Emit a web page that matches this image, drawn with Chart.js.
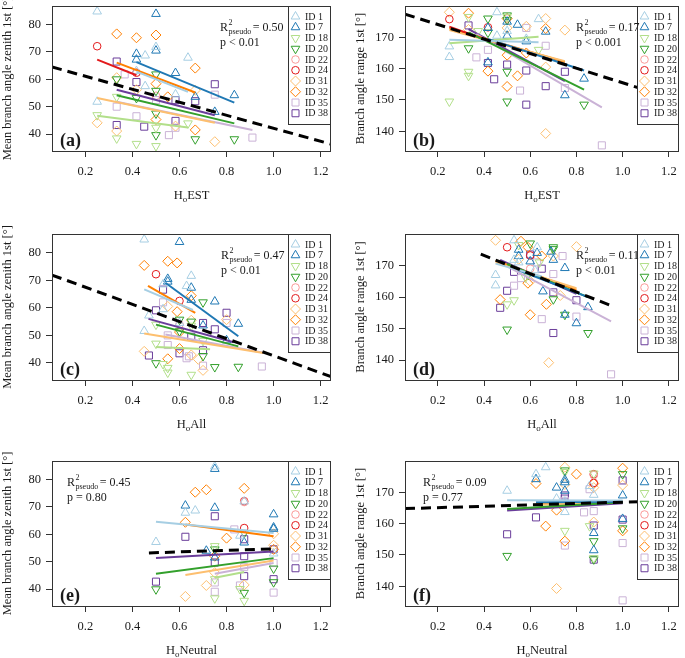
<!DOCTYPE html>
<html>
<head>
<meta charset="utf-8">
<script src="https://cdn.jsdelivr.net/npm/chart.js@4.4.0/dist/chart.umd.min.js"></script>
<style>
  body { margin: 0; background: #fff; }
  #wrap { position: relative; width: 685px; height: 658px; }
  .cell { position: absolute; }
</style>
</head>
<body>
<div id="wrap"></div>
<script>
// ---- data ----
const ids = ['ID 1', 'ID 7', 'ID 18', 'ID 20', 'ID 22', 'ID 24', 'ID 31', 'ID 32', 'ID 35', 'ID 38'];
const idColors = ['#a6cee3', '#1f78b4', '#b2df8a', '#33a02c', '#fb9a99', '#e31a1c', '#fdbf6f', '#ff7f00', '#cab2d6', '#6a3d9a'];
const idShapes = ['triUp', 'triUp', 'triDown', 'triDown', 'circle', 'circle', 'diamond', 'diamond', 'square', 'square'];

const xTicks = [0.2, 0.4, 0.6, 0.8, 1.0, 1.2];
const zenithTicks = [40, 50, 60, 70, 80];
const rangeTicks = [140, 150, 160, 170];

// (a) HoEST vs mean zenith
const ptsA = [
  [[0.25,84.8],[0.5,71.8],[0.454,68.7],[0.636,67.9],[0.454,57.5],[0.25,51.8],[0.583,54.5],[0.417,63]],
  [[0.5,83.9],[0.5,70.5],[0.417,69.3],[0.417,67.2],[0.583,62.3],[0.667,53.6],[0.833,54.2],[0.75,48.1]],
  [[0.25,46.9],[0.333,53.6],[0.333,38.4],[0.417,36.4],[0.5,35.6],[0.636,43.9],[0.5,42.3]],
  [[0.333,60],[0.5,61.8],[0.5,55.8],[0.5,47.5],[0.5,39.6],[0.667,38.1],[0.833,38.1],[0.417,53.2]],
  [[0.5,54]],
  [[0.25,72.1],[0.417,62.4]],
  [[0.25,44.1],[0.333,41.1],[0.75,37.2],[0.417,56.2],[0.583,42.9],[0.667,56],[0.333,60.6]],
  [[0.333,76.6],[0.417,75.2],[0.5,76.2],[0.667,64.1],[0.5,58.4],[0.55,53.6],[0.5,45.3],[0.667,41.5]],
  [[0.333,50],[0.417,46.5],[0.367,61.8],[0.555,39.6],[0.91,38.7],[0.75,54.4],[0.583,42.3],[0.5,52.4]],
  [[0.333,66.5],[0.417,59],[0.75,58.2],[0.583,52.4],[0.667,52],[0.583,44.8],[0.45,42.7],[0.333,43.3]]
];
const fitsA = [
  [0.417,62.8,0.636,55.4], [0.417,66.3,0.833,51.5], [0.25,46.7,0.636,42.4], [0.333,54.2,0.833,43.9], null,
  [0.25,67.2,0.417,61.5], [0.25,53.2,0.75,44.1], [0.333,66.1,0.667,55.2], [0.333,51.8,0.91,41.5], [0.333,56.2,0.75,46.9]
];
const overallA = [0.058, 64.5, 1.244, 36.3];
const statA = ['0.50', 'p < 0.01'];

// (b) HoEST vs angle range
const ptsB = [
  [[0.25,167.1],[0.25,163.7],[0.456,178],[0.456,170.5],[0.636,175.8],[0.5,172],[0.583,169.5]],
  [[0.417,173],[0.5,175],[0.5,170.5],[0.545,174],[0.583,168.7],[0.667,171.8],[0.75,151.5],[0.833,156.8],[0.417,162]],
  [[0.25,149.5],[0.333,159],[0.333,157.7],[0.333,176.5],[0.375,172],[0.5,176.5],[0.636,166]],
  [[0.333,166.5],[0.417,176],[0.417,171.5],[0.5,177],[0.5,159],[0.5,149.5],[0.833,148.5],[0.5,175.5]],
  [[0.5,176]],
  [[0.25,175.8],[0.417,173.2]],
  [[0.25,178],[0.333,172.5],[0.583,173.5],[0.667,176],[0.75,172.3],[0.667,160.5],[0.667,139.3],[0.5,173]],
  [[0.333,177.7],[0.417,159.2],[0.5,164.3],[0.5,154.3],[0.545,157.7],[0.667,172.8],[0.5,176],[0.583,165]],
  [[0.367,163.6],[0.417,166],[0.556,153],[0.583,173],[0.667,167.3],[0.75,153.8],[0.91,135.5]],
  [[0.333,173.8],[0.417,161.8],[0.444,156.6],[0.5,161.3],[0.583,159.4],[0.583,148.5],[0.667,154.4],[0.75,159]]
];
const fitsB = [
  [0.25,169.2,0.636,168.4], [0.417,169.5,0.833,159.4], [0.25,168.1,0.636,170.2], [0.333,171.6,0.833,153.3], null,
  [0.25,173.4,0.417,169], [0.25,172.3,0.75,162.4], [0.25,172.9,0.75,162.1], [0.367,171,0.91,147.6], [0.333,172.6,0.75,156]
];
const overallB = [0.058, 177.4, 1.244, 149.8];
const statB = ['0.17', 'p < 0.001'];

// (c) HoAll vs mean zenith
const ptsC = [
  [[0.45,84.8],[0.53,68.5],[0.63,67.9],[0.65,71.6],[0.45,51.6],[0.47,57.2],[0.53,59.5],[0.6,54.5]],
  [[0.6,83.9],[0.55,70.5],[0.55,69.5],[0.65,67.3],[0.65,62.9],[0.75,62.3],[0.85,54.2],[0.8,48.2],[0.7,53.6]],
  [[0.5,47],[0.53,39.6],[0.55,38.2],[0.55,36.5],[0.65,35.7],[0.5,53.9],[0.65,53.5],[0.7,48]],
  [[0.5,39.9],[0.6,55.7],[0.7,62],[0.7,42.5],[0.75,38.5],[0.85,38.6],[0.65,55],[0.6,51.5]],
  [[0.6,54]],
  [[0.5,72.2],[0.6,62.5]],
  [[0.45,44.2],[0.7,37.3],[0.68,41.3],[0.65,42.9],[0.8,55.7],[0.55,60.5],[0.65,55.5]],
  [[0.45,75.4],[0.55,76.9],[0.59,76.3],[0.65,64.4],[0.59,58.6],[0.55,41.5],[0.6,45.2],[0.6,51.2]],
  [[0.53,62],[0.55,46.5],[0.63,41.7],[0.64,42.4],[0.7,39],[0.8,54.5],[0.95,38.7],[0.55,50]],
  [[0.47,42.7],[0.5,59.1],[0.53,66.6],[0.6,43.5],[0.65,49.5],[0.7,54.5],[0.7,44.6],[0.75,52.2],[0.8,58.2]]
];
const fitsC = [
  [0.45,66.7,0.657,59.2], [0.54,69.1,0.85,49.7], [0.5,45.8,0.73,45], [0.5,53.9,0.85,46], null,
  null, [0.45,50.7,0.957,43.6], [0.466,68,0.667,58.2], [0.54,50.3,0.957,43.7], [0.468,56,0.83,47.5]
];
const overallC = [0.058, 71.9, 1.244, 35.0];
const statC = ['0.47', 'p < 0.01'];

// (d) HoAll vs angle range
const ptsD = [
  [[0.45,167],[0.45,163.7],[0.53,178],[0.53,171.8],[0.63,175.8],[0.62,168.5],[0.55,171]],
  [[0.55,175],[0.55,173],[0.6,171.3],[0.63,174],[0.69,174.4],[0.7,171.8],[0.655,161.8],[0.75,169.2],[0.75,154.4],[0.8,151.7],[0.85,156.8]],
  [[0.5,157.7],[0.53,159],[0.55,176.5],[0.58,166.2],[0.64,171]],
  [[0.5,149.7],[0.6,177],[0.7,175.8],[0.7,175.2],[0.7,159.3],[0.75,154.4],[0.85,148.6],[0.59,167]],
  [[0.6,169]],
  [[0.5,175.8],[0.6,173.2]],
  [[0.45,178],[0.68,139.2],[0.8,176],[0.6,165],[0.55,172],[0.73,160.5],[0.7,173]],
  [[0.47,159.2],[0.56,177.7],[0.6,154.4],[0.59,164.4],[0.67,157.7],[0.59,175.8],[0.65,173]],
  [[0.53,163.6],[0.56,166],[0.65,153],[0.7,167.3],[0.74,173],[0.8,153.8],[0.95,135.5],[0.63,171]],
  [[0.47,156.6],[0.5,162],[0.53,168],[0.6,173.5],[0.65,169],[0.7,161.5],[0.7,148.6],[0.8,159]]
];
const fitsD = [
  [0.45,170.6,0.65,166.5], [0.55,168.5,0.85,160], null, [0.5,170.5,0.85,160], null,
  null, [0.45,171,0.8,162.8], [0.45,171.5,0.8,162.3], [0.5,169.7,0.95,152.3], [0.47,171.8,0.8,161]
];
const overallD = [0.386, 173.6, 0.946, 157.4];
const statD = ['0.11', 'p < 0.01'];

// (e) HoNeutral vs mean zenith
const ptsE = [
  [[0.5,57.2],[0.625,67.9],[0.667,68.7],[0.75,84.8],[0.857,59.5],[1.0,53],[0.875,72]],
  [[0.625,70.5],[0.75,83.9],[0.75,69.7],[0.714,54],[0.75,51.5],[1.0,67.3],[1.0,62.5],[1.0,62],[0.875,57]],
  [[0.75,36.6],[0.75,43.6],[0.875,35.7],[0.857,40],[0.75,55.7]],
  [[0.5,39.9],[0.75,54.5],[0.875,38.6],[1.0,47.5],[1.0,42.5],[0.875,60.5]],
  [[0.875,71.8]],
  [[0.875,72.1],[0.875,62.3]],
  [[0.625,37.3],[0.714,41.3],[0.875,41.5],[1.0,56],[1.0,60.2],[0.75,46]],
  [[0.625,64.4],[0.667,75.4],[0.714,76.3],[0.8,58.6],[0.875,76.8],[0.75,52],[1.0,54.5]],
  [[0.75,42.4],[0.75,39],[0.833,61.8],[0.857,41.3],[0.875,48],[1.0,38.7],[1.0,49.5]],
  [[0.5,42.7],[0.625,59.1],[0.75,66.6],[0.75,49.7],[0.875,58.2],[0.875,52],[0.875,44.7],[1.0,43.6],[1.0,54.5]]
];
const fitsE = [
  [0.5,64.6,1.0,60.5], null, [0.75,44.1,0.875,46.2], [0.5,45.6,1.0,51.3], null,
  null, [0.625,45.1,1.0,50.4], [0.625,63.6,1.0,59.3], [0.75,45.6,1.0,49.5], [0.5,51.3,1.0,53.7]
];
const overallE = [0.47, 53.2, 1.0, 54.7];
const statE = ['0.45', 'p = 0.80'];

// (f) HoNeutral vs angle range
const ptsF = [
  [[0.5,170.5],[0.625,175.8],[0.667,178],[0.714,168],[0.75,163.7],[0.875,169.2],[0.857,172],[0.75,167]],
  [[0.625,174.2],[0.714,171.5],[0.75,174],[0.75,170.5],[0.875,157],[0.875,151.5],[1.0,169],[1.0,161.5],[0.75,173.2]],
  [[0.75,157.7],[0.857,159.2],[0.875,149],[0.75,176.5],[0.875,176]],
  [[0.5,149.7],[0.75,177],[0.875,154.4],[1.0,175.8],[1.0,158.5],[0.875,148.6]],
  [[0.875,175.5]],
  [[0.875,175.8],[0.875,173]],
  [[0.714,139.3],[0.75,178],[0.875,160.5],[1.0,172.3],[0.75,172.5],[0.875,171.5]],
  [[0.625,172.8],[0.667,159.2],[0.714,164.3],[0.75,154.4],[0.8,175.8],[1.0,177.7],[1.0,157.7],[0.875,172.8]],
  [[0.75,153],[0.833,163.6],[0.857,171],[0.875,164],[1.0,153.8],[1.0,135.5],[0.75,167.3]],
  [[0.5,156.6],[0.625,162],[0.75,169],[0.75,168],[0.875,159.4],[0.875,148.5],[1.0,173.8],[1.0,161.3]]
];
const fitsF = [
  [0.5,167.5,1.0,167.4], [0.625,166.8,1.0,167], null, [0.5,164.7,1.0,166.8], null,
  null, [0.625,166,1.0,166.9], [0.625,166.3,1.0,167], null, [0.5,164.2,1.0,166.5]
];
const overallF = [0.058, 164.8, 1.244, 167.4];
const statF = ['0.09', 'p = 0.77'];

// ---- layout ----
const SERIF = '"Liberation Serif", "Times New Roman", serif';
const INK = '#1a1a1a';
const cols = [{ x: 0, w: 342, left: 52, right: 331 }, { x: 342, w: 343, left: 63, right: 341 }];
const rows = [{ y: 0, h: 220, top: 5, bottom: 151 }, { y: 220, h: 220, top: 14, bottom: 160 }, { y: 440, h: 218, top: 21, bottom: 166 }];

const panels = [
  { tag: '(a)', col: 0, row: 0, pts: ptsA, fits: fitsA, overall: overallA, stat: statA, xName: 'EST', kind: 'zenith', statDx: 168 },
  { tag: '(b)', col: 1, row: 0, pts: ptsB, fits: fitsB, overall: overallB, stat: statB, xName: 'EST', kind: 'range', statDx: 171 },
  { tag: '(c)', col: 0, row: 1, pts: ptsC, fits: fitsC, overall: overallC, stat: statC, xName: 'All', kind: 'zenith', statDx: 169 },
  { tag: '(d)', col: 1, row: 1, pts: ptsD, fits: fitsD, overall: overallD, stat: statD, xName: 'All', kind: 'range', statDx: 171 },
  { tag: '(e)', col: 0, row: 2, pts: ptsE, fits: fitsE, overall: overallE, stat: statE, xName: 'Neutral', kind: 'zenith', statDx: 15 },
  { tag: '(f)', col: 1, row: 2, pts: ptsF, fits: fitsF, overall: overallF, stat: statF, xName: 'Neutral', kind: 'range', statDx: 18 }
];

const shapeStyle = {
  triUp:   { style: 'triangle', rot: 0,   r: 5 },
  triDown: { style: 'triangle', rot: 180, r: 5 },
  circle:  { style: 'circle',   rot: 0,   r: 3.8 },
  diamond: { style: 'rectRot',  rot: 0,   r: 5 },
  square:  { style: 'rect',     rot: 0,   r: 5 }
};

function legendMarker(ctx, shape, x, y, color) {
  ctx.save();
  ctx.strokeStyle = color;
  ctx.lineWidth = 1;
  ctx.beginPath();
  if (shape === 'triUp' || shape === 'triDown') {
    const r = 5, s = shape === 'triUp' ? 1 : -1;
    ctx.moveTo(x, y - s * r);
    ctx.lineTo(x + r * 0.866, y + s * r * 0.5);
    ctx.lineTo(x - r * 0.866, y + s * r * 0.5);
    ctx.closePath();
  } else if (shape === 'circle') {
    ctx.arc(x, y, 3.8, 0, Math.PI * 2);
  } else if (shape === 'diamond') {
    ctx.moveTo(x, y - 5); ctx.lineTo(x + 5, y); ctx.lineTo(x, y + 5); ctx.lineTo(x - 5, y);
    ctx.closePath();
  } else {
    ctx.rect(x - 3.5, y - 3.5, 7, 7);
  }
  ctx.stroke();
  ctx.restore();
}

function drawHo(ctx, rest, cx, base) {
  const big = '12.5px ' + SERIF, small = '9px ' + SERIF;
  ctx.font = big;
  const wH = ctx.measureText('H').width, wR = ctx.measureText(rest).width;
  ctx.font = small;
  const wo = ctx.measureText('o').width;
  let x = cx - (wH + wo + wR) / 2;
  ctx.textAlign = 'left';
  ctx.textBaseline = 'alphabetic';
  ctx.font = big; ctx.fillText('H', x, base); x += wH;
  ctx.font = small; ctx.fillText('o', x, base + 3); x += wo;
  ctx.font = big; ctx.fillText(rest, x, base);
}

function drawStat(ctx, stat, x, base) {
  const big = '12px ' + SERIF, small = '8px ' + SERIF;
  ctx.textAlign = 'left';
  ctx.textBaseline = 'alphabetic';
  ctx.font = big;
  ctx.fillText('R', x, base);
  const wR = ctx.measureText('R').width;
  ctx.font = small;
  ctx.fillText('2', x + wR + 0.5, base - 6);
  ctx.fillText('pseudo', x + wR + 0.5, base + 3);
  const wp = ctx.measureText('pseudo').width;
  ctx.font = big;
  ctx.fillText('= ' + stat[0], x + wR + wp + 2, base);
  ctx.fillText(stat[1], x, base + 15);
}

const panelDecor = {
  id: 'panelDecor',
  afterDraw(chart, args, opts) {
    const p = opts.panel;
    const ctx = chart.ctx;
    const a = chart.chartArea;
    ctx.save();
    // plot box
    ctx.strokeStyle = '#333';
    ctx.lineWidth = 1;
    ctx.strokeRect(Math.round(a.left) + 0.5, Math.round(a.top) + 0.5, Math.round(a.right - a.left) - 1, Math.round(a.bottom - a.top));

    // legend
    const lw = p.col === 0 ? 43 : 42;
    const lx = Math.round(a.right) - lw, ly = Math.round(a.top);
    ctx.fillStyle = '#fff';
    ctx.fillRect(lx, ly, lw, 118);
    ctx.strokeRect(lx + 0.5, ly + 0.5, lw - 1, 118);
    ctx.font = '10px ' + SERIF;
    ctx.textAlign = 'left';
    ctx.textBaseline = 'middle';
    ids.forEach((id, i) => {
      const y = ly + 10.5 + i * 10.75;
      legendMarker(ctx, idShapes[i], lx + 7.5, y, idColors[i]);
      ctx.fillStyle = INK;
      ctx.fillText(id, lx + 17, y + 0.5);
    });

    ctx.fillStyle = INK;
    drawStat(ctx, p.stat, a.left + p.statDx, a.top + 25);

    // panel tag
    ctx.font = 'bold 18px ' + SERIF;
    ctx.textAlign = 'left';
    ctx.textBaseline = 'alphabetic';
    ctx.fillText(p.tag, a.left + 8, a.bottom - 5);

    // axis titles
    drawHo(ctx, p.xName, (a.left + a.right) / 2, a.bottom + 48);
    ctx.save();
    ctx.translate(a.left - 44, (a.top + a.bottom) / 2);
    ctx.rotate(-Math.PI / 2);
    ctx.font = '12.5px ' + SERIF;
    ctx.textAlign = 'center';
    ctx.textBaseline = 'middle';
    ctx.fillText(p.kind === 'zenith' ? 'Mean branch angle zenith 1st [°]' : 'Branch angle range 1st [°]', 0, 0);
    ctx.restore();
    ctx.restore();
  }
};

function buildDatasets(p) {
  const sets = [];
  sets.push({
    label: 'overall',
    data: [{ x: p.overall[0], y: p.overall[1] }, { x: p.overall[2], y: p.overall[3] }],
    showLine: true, borderColor: '#000', borderWidth: 3, borderDash: [10, 6],
    pointRadius: 0, order: 0
  });
  p.fits.forEach((f, i) => {
    if (!f) return;
    sets.push({
      label: ids[i] + ' fit',
      data: [{ x: f[0], y: f[1] }, { x: f[2], y: f[3] }],
      showLine: true, borderColor: idColors[i], borderWidth: 2,
      pointRadius: 0, order: 1
    });
  });
  p.pts.forEach((arr, i) => {
    const s = shapeStyle[idShapes[i]];
    sets.push({
      label: ids[i],
      data: arr.map(v => ({ x: v[0], y: v[1] })),
      showLine: false,
      pointStyle: s.style, rotation: s.rot, pointRadius: s.r,
      borderColor: idColors[i], backgroundColor: 'rgba(0,0,0,0)',
      borderWidth: 1, order: 2
    });
  });
  return sets;
}

const wrap = document.getElementById('wrap');

panels.forEach(p => {
  const c = cols[p.col], r = rows[p.row];
  const div = document.createElement('div');
  div.className = 'cell';
  div.style.left = c.x + 'px';
  div.style.top = r.y + 'px';
  div.style.width = c.w + 'px';
  div.style.height = r.h + 'px';
  const canvas = document.createElement('canvas');
  canvas.width = c.w;
  canvas.height = r.h;
  div.appendChild(canvas);
  wrap.appendChild(div);

  const zen = p.kind === 'zenith';
  const yTicks = zen ? zenithTicks : rangeTicks;
  const tickFont = { family: SERIF, size: 12.5 };

  new Chart(canvas, {
    type: 'scatter',
    data: { datasets: buildDatasets(p) },
    options: {
      responsive: false,
      animation: false,
      devicePixelRatio: 1,
      events: [],
      layout: { padding: { left: 0, top: r.top, right: c.w - c.right, bottom: 0 } },
      plugins: {
        legend: { display: false },
        tooltip: { enabled: false },
        panelDecor: { panel: p }
      },
      scales: {
        x: {
          type: 'linear', min: 0.058, max: 1.244,
          afterBuildTicks: s => { s.ticks = xTicks.map(v => ({ value: v })); },
          afterFit: s => { s.height = r.h - r.bottom; s.paddingLeft = 0; s.paddingRight = 0; },
          ticks: { font: tickFont, color: INK, padding: 7, maxRotation: 0, autoSkip: false, callback: v => v.toFixed(1) },
          grid: { drawOnChartArea: false, drawTicks: true, tickLength: 6, color: '#333', tickColor: '#333' },
          border: { display: false }
        },
        y: {
          type: 'linear',
          min: zen ? 33.8 : 133.7,
          max: zen ? 86.8 : 180,
          afterBuildTicks: s => { s.ticks = yTicks.map(v => ({ value: v })); },
          afterFit: s => { s.width = c.left; s.paddingTop = 0; s.paddingBottom = 0; },
          ticks: { font: tickFont, color: INK, padding: 5, autoSkip: false, callback: v => String(v) },
          grid: { drawOnChartArea: false, drawTicks: true, tickLength: 6, color: '#333', tickColor: '#333' },
          border: { display: false }
        }
      }
    },
    plugins: [panelDecor]
  });
});
</script>
</body>
</html>
